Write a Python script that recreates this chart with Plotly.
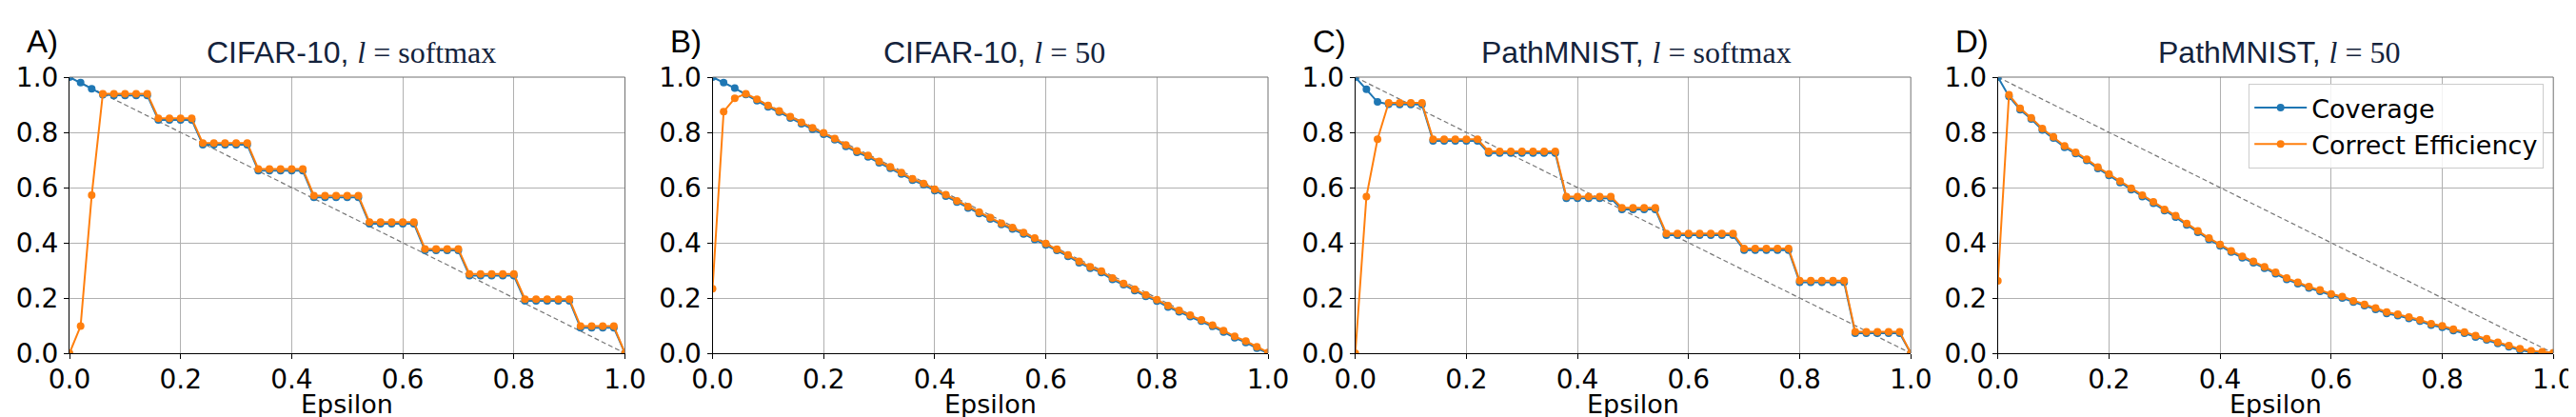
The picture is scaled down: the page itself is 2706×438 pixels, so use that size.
import plotly.graph_objects as go

# ---------------- data ----------------
epsilon = [0.00, 0.02, 0.04, 0.06, 0.08, 0.10, 0.12, 0.14, 0.16, 0.18,
           0.20, 0.22, 0.24, 0.26, 0.28, 0.30, 0.32, 0.34, 0.36, 0.38,
           0.40, 0.42, 0.44, 0.46, 0.48, 0.50, 0.52, 0.54, 0.56, 0.58,
           0.60, 0.62, 0.64, 0.66, 0.68, 0.70, 0.72, 0.74, 0.76, 0.78,
           0.80, 0.82, 0.84, 0.86, 0.88, 0.90, 0.92, 0.94, 0.96, 0.98, 1.00]

# A) CIFAR-10, l = softmax
cov_a = [1.000, 0.980, 0.958, 0.936, 0.934, 0.934, 0.934, 0.934, 0.845, 0.845,
         0.845, 0.845, 0.755, 0.755, 0.755, 0.755, 0.755, 0.661, 0.661, 0.661,
         0.661, 0.661, 0.565, 0.565, 0.565, 0.565, 0.565, 0.469, 0.469, 0.469,
         0.469, 0.469, 0.372, 0.372, 0.372, 0.372, 0.281, 0.281, 0.281, 0.281,
         0.281, 0.190, 0.190, 0.190, 0.190, 0.190, 0.092, 0.092, 0.092, 0.092, 0.000]
eff_a = [0.000, 0.098, 0.572, 0.940, 0.940, 0.940, 0.940, 0.940, 0.851, 0.851,
         0.851, 0.851, 0.761, 0.761, 0.761, 0.761, 0.761, 0.667, 0.667, 0.667,
         0.667, 0.667, 0.571, 0.571, 0.571, 0.571, 0.571, 0.475, 0.475, 0.475,
         0.475, 0.475, 0.378, 0.378, 0.378, 0.378, 0.287, 0.287, 0.287, 0.287,
         0.287, 0.196, 0.196, 0.196, 0.196, 0.196, 0.098, 0.098, 0.098, 0.098, 0.000]

# B) CIFAR-10, l = 50
cov_b = [1.000, 0.980, 0.960, 0.937, 0.915, 0.892, 0.873, 0.852, 0.831, 0.811,
         0.793, 0.773, 0.749, 0.728, 0.711, 0.690, 0.670, 0.649, 0.627, 0.610,
         0.589, 0.569, 0.547, 0.526, 0.506, 0.486, 0.466, 0.450, 0.432, 0.412,
         0.392, 0.372, 0.351, 0.328, 0.308, 0.292, 0.267, 0.248, 0.227, 0.206,
         0.189, 0.167, 0.150, 0.133, 0.116, 0.097, 0.077, 0.056, 0.039, 0.018, 0.000]
eff_b = [0.234, 0.875, 0.923, 0.940, 0.920, 0.897, 0.878, 0.857, 0.836, 0.816,
         0.798, 0.778, 0.754, 0.733, 0.716, 0.695, 0.675, 0.654, 0.632, 0.615,
         0.594, 0.574, 0.552, 0.531, 0.511, 0.491, 0.471, 0.455, 0.437, 0.417,
         0.397, 0.377, 0.356, 0.333, 0.313, 0.297, 0.272, 0.253, 0.232, 0.211,
         0.194, 0.172, 0.155, 0.138, 0.121, 0.102, 0.082, 0.061, 0.044, 0.023, 0.003]

# C) PathMNIST, l = softmax
cov_c = [1.000, 0.956, 0.910, 0.902, 0.901, 0.901, 0.901, 0.769, 0.769, 0.769,
         0.769, 0.769, 0.725, 0.725, 0.725, 0.725, 0.725, 0.725, 0.725, 0.561,
         0.561, 0.561, 0.561, 0.561, 0.521, 0.521, 0.521, 0.521, 0.428, 0.428,
         0.428, 0.428, 0.428, 0.428, 0.428, 0.373, 0.373, 0.373, 0.373, 0.373,
         0.257, 0.257, 0.257, 0.257, 0.257, 0.072, 0.072, 0.072, 0.072, 0.072, 0.000]
eff_c = [0.000, 0.567, 0.775, 0.907, 0.907, 0.907, 0.907, 0.775, 0.775, 0.775,
         0.775, 0.775, 0.731, 0.731, 0.731, 0.731, 0.731, 0.731, 0.731, 0.567,
         0.567, 0.567, 0.567, 0.567, 0.527, 0.527, 0.527, 0.527, 0.434, 0.434,
         0.434, 0.434, 0.434, 0.434, 0.434, 0.379, 0.379, 0.379, 0.379, 0.379,
         0.263, 0.263, 0.263, 0.263, 0.263, 0.078, 0.078, 0.078, 0.078, 0.078, 0.000]

# D) PathMNIST, l = 50
cov_d = [1.000, 0.930, 0.882, 0.848, 0.809, 0.779, 0.746, 0.723, 0.698, 0.669,
         0.644, 0.618, 0.592, 0.567, 0.543, 0.516, 0.493, 0.465, 0.438, 0.412,
         0.389, 0.366, 0.346, 0.328, 0.308, 0.288, 0.267, 0.252, 0.236, 0.224,
         0.210, 0.200, 0.185, 0.172, 0.159, 0.144, 0.136, 0.126, 0.116, 0.102,
         0.094, 0.082, 0.072, 0.059, 0.048, 0.035, 0.023, 0.011, 0.004, 0.001, 0.000]
eff_d = [0.262, 0.936, 0.887, 0.853, 0.814, 0.784, 0.751, 0.728, 0.703, 0.674,
         0.649, 0.623, 0.597, 0.572, 0.548, 0.521, 0.498, 0.470, 0.443, 0.417,
         0.394, 0.371, 0.351, 0.333, 0.313, 0.293, 0.272, 0.257, 0.241, 0.229,
         0.215, 0.205, 0.190, 0.177, 0.164, 0.149, 0.141, 0.131, 0.121, 0.107,
         0.099, 0.087, 0.077, 0.064, 0.053, 0.040, 0.028, 0.016, 0.009, 0.005, 0.002]

panel_letters = ["A)", "B)", "C)", "D)"]
dataset_names = ["CIFAR-10", "CIFAR-10", "PathMNIST", "PathMNIST"]
score_names = ["softmax", "50", "softmax", "50"]
x_label = "Epsilon"
coverage = [cov_a, cov_b, cov_c, cov_d]
efficiency = [eff_a, eff_b, eff_c, eff_d]
ideal_x = [0.0, 1.0]
ideal_y = [1.0, 0.0]
tick_vals = [0.0, 0.2, 0.4, 0.6, 0.8, 1.0]
tick_text = ["0.0", "0.2", "0.4", "0.6", "0.8", "1.0"]

# ---------------- layout geometry ----------------
W, H = 2706, 438
plot_left = [65, 740.5, 1415.7, 2090.7]
plot_w = 583.5
plot_top, plot_bot = 73, 363

BLUE = "#1f77b4"
ORANGE = "#ff7f0e"
TITLE_COLOR = "#14233c"
TICK_FONT = dict(family="DejaVu Sans", size=28, color="black")

fig = go.Figure()
shapes = []
annotations = []

for i in range(4):
    xa = "x" if i == 0 else f"x{i+1}"
    ya = "y" if i == 0 else f"y{i+1}"
    fig.add_trace(go.Scatter(x=ideal_x, y=ideal_y, mode="lines", xaxis=xa, yaxis=ya,
                             line=dict(color="#777777", width=1.2, dash="5px,3px"),
                             showlegend=False, hoverinfo="skip"))
    fig.add_trace(go.Scatter(x=epsilon, y=coverage[i], mode="lines+markers",
                             name="Coverage", xaxis=xa, yaxis=ya,
                             line=dict(color=BLUE, width=2),
                             marker=dict(color=BLUE, size=8),
                             showlegend=(i == 3), legendrank=1))
    fig.add_trace(go.Scatter(x=epsilon, y=efficiency[i], mode="lines+markers",
                             name="Correct Efficiency", xaxis=xa, yaxis=ya,
                             line=dict(color=ORANGE, width=2),
                             marker=dict(color=ORANGE, size=8),
                             showlegend=(i == 3), legendrank=2))

    x0 = plot_left[i] / W
    x1 = (plot_left[i] + plot_w) / W
    dom_y = [1 - plot_bot / H, 1 - plot_top / H]
    axis_common = dict(range=[0, 1], tickvals=tick_vals, ticktext=tick_text,
                       showgrid=True, gridcolor="#b0b0b0", gridwidth=1,
                       zeroline=False, showline=True, linecolor="black", linewidth=1,
                       ticks="outside", ticklen=5, tickwidth=1, tickcolor="black",
                       tickfont=TICK_FONT, automargin=False, fixedrange=True)
    xkey = "xaxis" if i == 0 else f"xaxis{i+1}"
    ykey = "yaxis" if i == 0 else f"yaxis{i+1}"
    fig.update_layout(**{
        xkey: dict(axis_common, domain=[x0, x1], anchor=ya, ticklabelstandoff=-3),
        ykey: dict(axis_common, domain=dom_y, anchor=xa),
    })
    # top and right spines (grey)
    shapes.append(dict(type="line", xref=f"{xa} domain", yref=f"{ya} domain",
                       x0=0, x1=1, y0=1, y1=1, line=dict(color="#707070", width=1)))
    shapes.append(dict(type="line", xref=f"{xa} domain", yref=f"{ya} domain",
                       x0=1, x1=1, y0=0, y1=1, line=dict(color="#707070", width=1)))

    cx = (plot_left[i] + plot_w / 2 + 4) / W
    title = (f"{dataset_names[i]}, "
             f"<span style=\"font-family:'Liberation Serif'\"><i>l</i> = {score_names[i]}</span>")
    annotations.append(dict(text=title, xref="paper", yref="paper", x=cx, y=1 - 47 / H,
                            xanchor="center", yanchor="middle", showarrow=False,
                            font=dict(family="Liberation Sans", size=32, color=TITLE_COLOR)))
    annotations.append(dict(text=panel_letters[i], xref="paper", yref="paper",
                            x=(plot_left[i] - 47) / W, y=1 - 35 / H,
                            xanchor="left", yanchor="middle", showarrow=False,
                            font=dict(family="Liberation Sans", size=33, color="black")))
    annotations.append(dict(text=x_label, xref="paper", yref="paper",
                            x=(plot_left[i] + plot_w / 2) / W, y=1 - 416 / H,
                            xanchor="center", yanchor="middle", showarrow=False,
                            font=dict(family="DejaVu Sans", size=27, color="black")))

fig.update_layout(
    width=W, height=H,
    margin=dict(l=0, r=0, t=0, b=0),
    paper_bgcolor="white", plot_bgcolor="white",
    shapes=shapes, annotations=annotations,
    legend=dict(x=(2090.7 + plot_w - 10) / W, y=1 - 80 / H, xanchor="right", yanchor="top",
                font=dict(family="DejaVu Sans", size=27, color="black"),
                bgcolor="rgba(255,255,255,0.85)", bordercolor="#cccccc", borderwidth=1,
                itemwidth=55, tracegroupgap=0),
    showlegend=True,
)

fig.write_html("out.html")
